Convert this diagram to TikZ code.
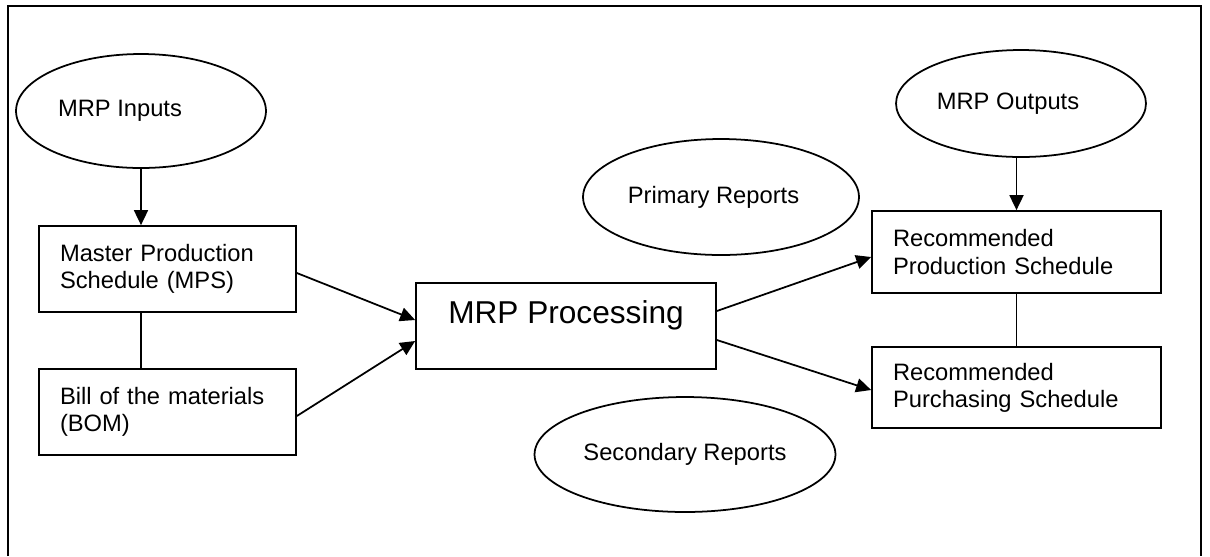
\documentclass[tikz,border=0pt]{standalone}
\usepackage{fontspec}
\setmainfont{Liberation Sans}
\usetikzlibrary{arrows.meta,positioning,calc,shapes.geometric}
\tikzset{box/.style={draw,line width=1pt,rectangle,inner xsep=0.42cm,align=left,font=\fontsize{13.5}{15.4}\selectfont},bigbox/.style={draw,line width=1pt,rectangle,minimum width=6cm,minimum height=1.72cm,font=\fontsize{18}{21}\selectfont,text height=0.46cm,text depth=0.58cm},oval/.style={draw,line width=1pt,ellipse,inner sep=0pt,font=\fontsize{13.5}{15.4}\selectfont},flow/.style={-{Triangle[length=0.3cm,width=0.28cm]},line width=1pt},link/.style={line width=1pt}}
\begin{document}
\begin{tikzpicture}[x=0.02cm,y=-0.02cm]
\useasboundingbox (0,0) rectangle (1210,556);
\draw[link] (8,556)--(8,6)--(1201,6)--(1201,556);
\node[oval,minimum width=5cm,minimum height=2.28cm] (inputs) at (141,111) {MRP Inputs\kern0.84cm};
\node[box,text width=4.3cm,minimum height=1.72cm] (mps) at (167.5,269) {Master Production\\Schedule (MPS)};
\node[box,text width=4.3cm,minimum height=1.72cm] (bom) at (167.5,412) {Bill of the materials\\(BOM)};
\node[bigbox] (proc) at (566,326) {MRP Processing};
\node[oval,minimum width=5.52cm,minimum height=2.32cm] (primary) at (721,197) {Primary Reports\kern0.3cm};
\node[oval,minimum width=6.02cm,minimum height=2.3cm] (secondary) at (685,454.5) {Secondary Reports};
\node[oval,minimum width=5cm,minimum height=2.14cm] (outputs) at (1021,103.5) {MRP Outputs\kern0.52cm};
\node[box,text width=4.94cm,minimum height=1.64cm] (prodsched) at (1016.5,252) {Recommended\\Production Schedule};
\node[box,text width=4.94cm,minimum height=1.62cm] (purchsched) at (1016.5,387.5) {Recommended\\Purchasing Schedule};
\draw[flow] (inputs.south)--(inputs.south|-mps.north);
\draw[link] (mps.south-|inputs.south)--(bom.north-|inputs.south);
\draw[flow] ([yshift=-0.08cm]mps.east)--([yshift=0.12cm]proc.west);
\draw[flow] ([yshift=-0.08cm]bom.east)--([yshift=-0.3cm]proc.west);
\draw[flow] ([yshift=0.3cm]proc.east)--([yshift=-0.1cm]prodsched.west);
\draw[flow] ([yshift=-0.28cm]proc.east)--([yshift=-0.05cm]purchsched.west);
\draw[flow] (outputs.south-|prodsched.north)--(prodsched.north);
\draw[link] (prodsched.south)--(purchsched.north);
\end{tikzpicture}
\end{document}
